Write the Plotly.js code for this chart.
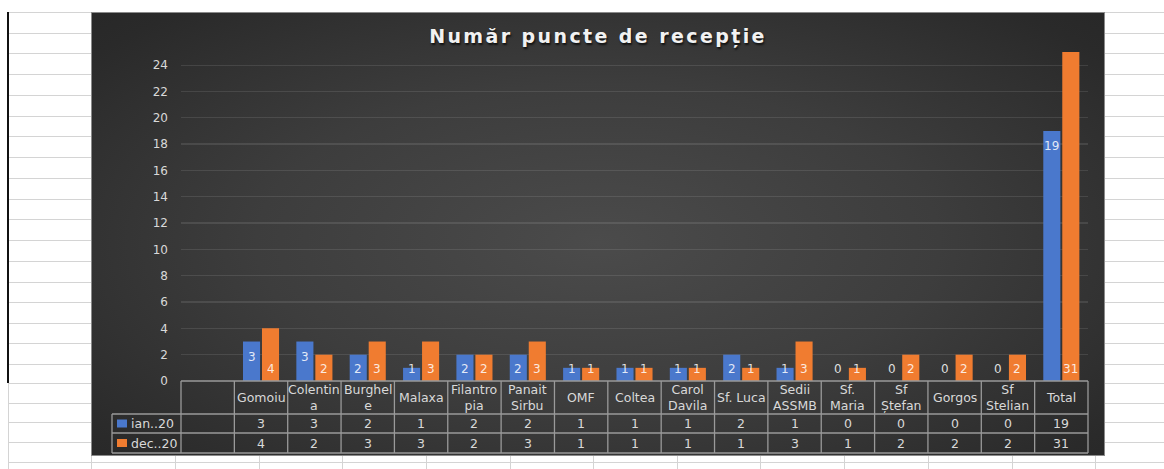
<!DOCTYPE html>
<html>
<head>
<meta charset="utf-8">
<script src="https://cdn.plot.ly/plotly-3.0.1.min.js"></script>
<style>
html,body{margin:0;padding:0;background:#fff;width:1164px;height:469px;overflow:hidden;position:relative;}
.hl{position:absolute;height:1px;background:#d4d4d4;}
.vl{position:absolute;width:1px;background:#d4d4d4;}
#chartbox{position:absolute;left:91px;top:12px;width:1014px;height:444px;box-sizing:border-box;border:1px solid #8a8a8a;
  background:radial-gradient(ellipse 75% 80% at 50% 52%, #4b4b4b 0%, #3d3d3d 45%, #2a2a2a 85%, #262626 100%);}
#chart{position:absolute;left:-1px;top:-1px;width:1014px;height:444px;}
.gtitle{letter-spacing:2.4px;}
</style>
</head>
<body>
<div id="grid"></div>
<div id="chartbox"><div id="chart"></div></div>
<script>
// ---- data ----
const categories = ["Gomoiu","Colentina","Burghele","Malaxa","Filantropia","Panait Sirbu","OMF","Coltea","Carol Davila","Sf. Luca","Sedii ASSMB","Sf. Maria","Sf Ștefan","Gorgos","Sf Stelian","Total"];
const tableLabels = ["Gomoiu","Colentin<br>a","Burghel<br>e","Malaxa","Filantro<br>pia","Panait<br>Sirbu","OMF","Coltea","Carol<br>Davila","Sf. Luca","Sedii<br>ASSMB","Sf.<br>Maria","Sf<br>Ștefan","Gorgos","Sf<br>Stelian","Total"];
const seriesNames = ["ian..20","dec..20"];
const ian20 = [3,3,2,1,2,2,1,1,1,2,1,0,0,0,0,19];
const dec20 = [4,2,3,3,2,3,1,1,1,1,3,1,2,2,2,31];
const yTickVals = [0,2,4,6,8,10,12,14,16,18,20,22,24];
const chartTitle = "Număr puncte de recepție";

// ---- spreadsheet grid (page decoration) ----
const rowLines = [12,33,53,74,95,116,136,157,178,199,219,240,261,282,302,323,343,364,383,403,422,442,462];
const colLines = [8,91,175,259,342,426,510,593,677,760,844,928,1012,1095];
const grid = document.getElementById('grid');
rowLines.forEach(y => { const d=document.createElement('div'); d.className='hl'; d.style.left='8px'; d.style.width='1156px'; d.style.top=y+'px'; grid.appendChild(d); });
colLines.forEach(x => { const d=document.createElement('div'); d.className='vl'; d.style.left=x+'px'; d.style.top='12px'; d.style.height='457px'; grid.appendChild(d); });
const blk=document.createElement('div'); blk.style.cssText='position:absolute;left:7px;top:12px;width:2px;height:371px;background:#111;'; grid.appendChild(blk);

// ---- chart ----
const W=1014, H=444, M={l:90,r:17,t:40,b:75};
const pw=W-M.l-M.r, ph=H-M.t-M.b;
const PX = p => (p - M.l)/pw;          // figure px -> paper x
const PY = p => (H - M.b - p)/ph;      // figure px -> paper y
const nCols = categories.length + 1;   // blank first column
const colW = pw / nCols;

const blue='#4a78cc', orange='#f07c30';
const txt='#d9d9d9', lineC='#9a9a9a';
const font='DejaVu Sans';

const traces = [
  {type:'bar', name:seriesNames[0], x:categories, y:ian20, marker:{color:blue}, hoverinfo:'skip'},
  {type:'bar', name:seriesNames[1], x:categories, y:dec20, marker:{color:orange}, hoverinfo:'skip'}
];

const shapes=[], annotations=[];
const hline=(x0,x1,y)=>shapes.push({type:'line',xref:'paper',yref:'paper',x0:PX(x0),x1:PX(x1),y0:PY(y),y1:PY(y),line:{color:lineC,width:1.3}});
const vline=(x,y0,y1)=>shapes.push({type:'line',xref:'paper',yref:'paper',x0:PX(x),x1:PX(x),y0:PY(y0),y1:PY(y1),line:{color:lineC,width:1.3}});
const rowTop=369, hdrBot=402, r1Bot=421, r2Bot=441, keyLeft=21;
hline(M.l, M.l+pw, rowTop);
hline(keyLeft, M.l+pw, hdrBot);
hline(keyLeft, M.l+pw, r1Bot);
hline(keyLeft, M.l+pw, r2Bot);
vline(keyLeft, hdrBot, r2Bot);
for(let k=0;k<=nCols;k++) vline(M.l+k*colW, rowTop, r2Bot);

const cellFont={family:font,size:12.5,color:txt};
// header row
categories.forEach((c,i)=>{
  annotations.push({xref:'x',yref:'paper',x:c,y:PY((rowTop+hdrBot)/2),text:tableLabels[i],showarrow:false,
    xanchor:'center',yanchor:'middle',align:'center',font:cellFont});
});
// value rows
[ian20,dec20].forEach((arr,s)=>{
  const yc = s===0 ? (hdrBot+r1Bot)/2 : (r1Bot+r2Bot)/2;
  arr.forEach((v,i)=>{
    annotations.push({xref:'x',yref:'paper',x:categories[i],y:PY(yc),text:String(v),showarrow:false,
      xanchor:'center',yanchor:'middle',font:cellFont});
  });
  // legend key + name
  shapes.push({type:'rect',xref:'paper',yref:'paper',x0:PX(26),x1:PX(36),y0:PY(yc-4),y1:PY(yc+4),
    fillcolor:s===0?blue:orange,line:{width:0}});
  annotations.push({xref:'paper',yref:'paper',x:PX(38),y:PY(yc),text:seriesNames[s],showarrow:false,
    xanchor:'left',yanchor:'middle',font:cellFont});
});

// data labels on bars
const lblFont={family:font,size:12,color:'rgba(255,255,255,0.85)'};
ian20.forEach((v,i)=>{
  if(v>2) annotations.push({xref:'x',yref:'y',x:categories[i],y:v,xshift:-9.5,yshift:-6,yanchor:'top',text:String(v),showarrow:false,font:lblFont});
  else annotations.push({xref:'x',yref:'y',x:categories[i],y:0,xshift:-9.5,yshift:3,yanchor:'bottom',text:String(v),showarrow:false,font:lblFont});
});
dec20.forEach((v,i)=>{
  annotations.push({xref:'x',yref:'y',x:categories[i],y:0,xshift:9.5,yshift:3,yanchor:'bottom',text:String(v),showarrow:false,font:lblFont});
});

const layout = {
  width:W, height:H, margin:M,
  paper_bgcolor:'rgba(0,0,0,0)', plot_bgcolor:'rgba(0,0,0,0)',
  showlegend:false, barmode:'group', bargap:0.288, bargroupgap:0.1,
  title:{text:chartTitle, x:0.5, xref:'container', xanchor:'center', y:1-24.5/H, yref:'container', yanchor:'middle',
    font:{family:font, size:19, weight:'bold', color:'#f2f2f2', shadow:'1px 2px 2px rgba(0,0,0,0.7)'}},
  xaxis:{type:'category', categoryarray:categories, categoryorder:'array', range:[-1.5, categories.length-0.5],
    showticklabels:false, showgrid:false, zeroline:false, showline:false, ticks:'', fixedrange:true},
  yaxis:{range:[0,25], tickvals:yTickVals, ticks:'', showline:false, zeroline:false,
    gridcolor:'rgba(255,255,255,0.1)', gridwidth:1.3, ticklabelstandoff:12,
    tickfont:{family:font, size:12, color:txt}, fixedrange:true},
  shapes, annotations
};
Plotly.newPlot('chart', traces, layout, {displayModeBar:false, staticPlot:true});
</script>
</body>
</html>
